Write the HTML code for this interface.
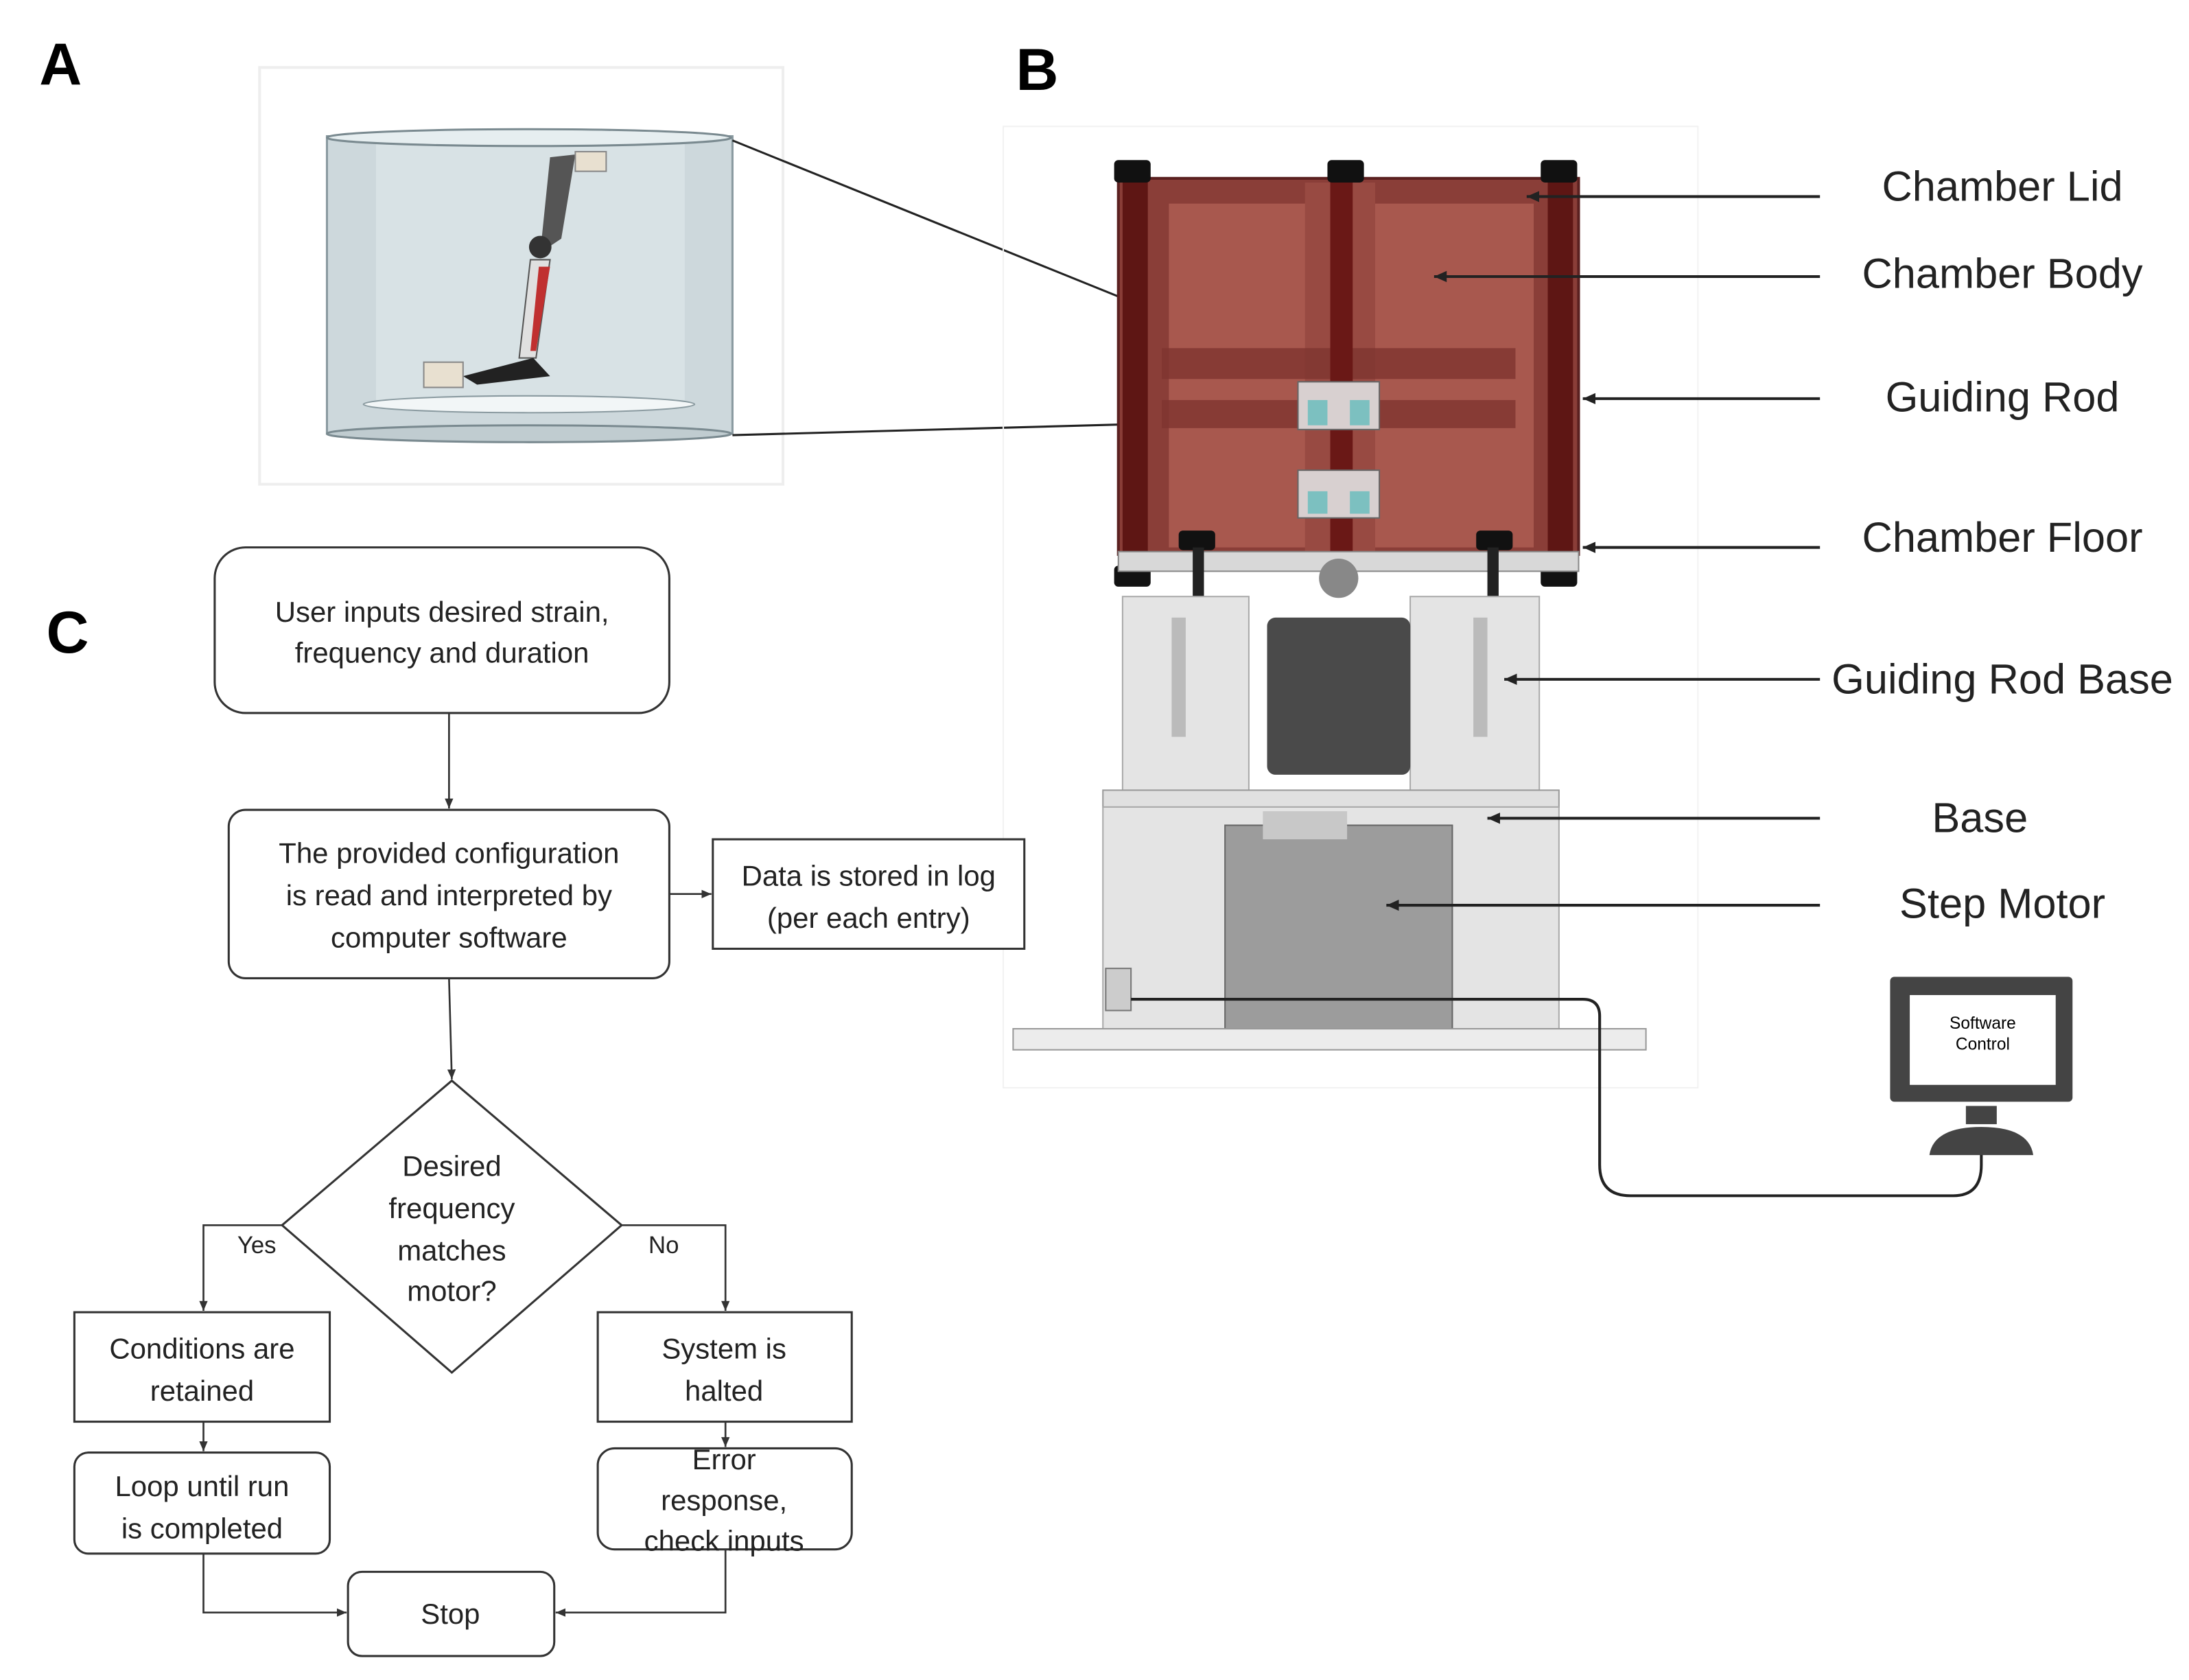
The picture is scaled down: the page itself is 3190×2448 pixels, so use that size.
<!DOCTYPE html>
<html><head><meta charset="utf-8"><style>
html,body{margin:0;padding:0;background:#fff;}
svg{display:block;}
text{font-family:"Liberation Sans",sans-serif;}
</style></head><body>
<svg width="3190" height="2448" viewBox="0 0 1560 1197" xmlns="http://www.w3.org/2000/svg">
<defs>
<marker id="ah" markerWidth="10" markerHeight="10" refX="9" refY="5" orient="auto" markerUnits="userSpaceOnUse"><path d="M0,1 L9,5 L0,9 z" fill="#222"/></marker>
<marker id="as" markerWidth="8" markerHeight="8" refX="7" refY="4" orient="auto" markerUnits="userSpaceOnUse"><path d="M0,1 L7,4 L0,7 z" fill="#333"/></marker>
</defs>
<rect width="1560" height="1197" fill="#fff"/>
<text x="28" y="60" font-size="42" font-weight="bold">A</text>
<text x="724" y="64" font-size="42" font-weight="bold">B</text>
<text x="33" y="465" font-size="42" font-weight="bold">C</text>

<rect x="185" y="48" width="373" height="297" fill="none" stroke="#eee" stroke-width="2"/>
<rect x="233" y="97" width="289" height="212" fill="#cdd8dc" stroke="#8a9aa0" stroke-width="1.5"/>
<rect x="268" y="100" width="220" height="185" fill="#d8e2e5"/>
<ellipse cx="377" cy="98" rx="144" ry="6" fill="#e6eef0" stroke="#7a8a90" stroke-width="1.5"/>
<ellipse cx="377" cy="288" rx="118" ry="6" fill="#f2f6f7" stroke="#8a9aa0"/>
<ellipse cx="377" cy="309" rx="144" ry="6" fill="#c0ccd0" stroke="#7a8a90" stroke-width="1.5"/>
<path d="M392,112 L410,110 L400,170 L385,180 Z" fill="#555"/>
<rect x="410" y="108" width="22" height="14" fill="#e8e0d0" stroke="#888"/>
<circle cx="385" cy="176" r="8" fill="#333"/>
<path d="M378,185 L392,185 L382,255 L370,255 Z" fill="#e0e0e0" stroke="#555"/>
<path d="M384,190 L392,190 L382,250 L378,250 Z" fill="#c03030"/>
<path d="M330,268 L380,255 L392,268 L340,274 Z" fill="#222"/>
<rect x="302" y="258" width="28" height="18" fill="#e8e0d0" stroke="#888"/>
<line x1="522" y1="100" x2="888" y2="248" stroke="#222" stroke-width="1.5"/>
<line x1="522" y1="310" x2="888" y2="300" stroke="#222" stroke-width="1.5"/>

<rect x="715" y="90" width="495" height="685" fill="none" stroke="#f2f2f2"/>
<rect x="797" y="127" width="328" height="268" fill="#8a3e38" stroke="#5a2020" stroke-width="2"/>
<rect x="833" y="145" width="260" height="245" fill="#a8584e"/>
<rect x="930" y="130" width="50" height="265" fill="#984a42"/>
<rect x="828" y="248" width="252" height="22" fill="#7e3430" opacity="0.8"/>
<rect x="828" y="285" width="252" height="20" fill="#7e3430" opacity="0.8"/>
<rect x="948" y="125" width="16" height="275" fill="#6a1816"/>
<rect x="925" y="272" width="58" height="34" fill="#d8d0d0" stroke="#666"/>
<rect x="932" y="285" width="14" height="18" fill="#7cc0c0"/><rect x="962" y="285" width="14" height="18" fill="#7cc0c0"/>
<rect x="925" y="335" width="58" height="34" fill="#d8d0d0" stroke="#666"/>
<rect x="932" y="350" width="14" height="16" fill="#7cc0c0"/><rect x="962" y="350" width="14" height="16" fill="#7cc0c0"/>
<rect x="800" y="125" width="18" height="275" fill="#5e1614"/>
<rect x="1103" y="125" width="18" height="275" fill="#5e1614"/>
<rect x="794" y="114" width="26" height="16" rx="3" fill="#111"/><rect x="946" y="114" width="26" height="16" rx="3" fill="#111"/><rect x="1098" y="114" width="26" height="16" rx="3" fill="#111"/>
<rect x="794" y="403" width="26" height="15" rx="3" fill="#111"/><rect x="1098" y="403" width="26" height="15" rx="3" fill="#111"/>
<rect x="840" y="378" width="26" height="14" rx="3" fill="#111"/><rect x="1052" y="378" width="26" height="14" rx="3" fill="#111"/>
<rect x="797" y="393" width="328" height="14" fill="#d8d8d8" stroke="#888"/>
<rect x="850" y="390" width="8" height="50" fill="#222"/><rect x="1060" y="390" width="8" height="50" fill="#222"/>
<circle cx="954" cy="412" r="14" fill="#888"/>
<rect x="800" y="425" width="90" height="140" fill="#e4e4e4" stroke="#aaa"/>
<rect x="1005" y="425" width="92" height="140" fill="#e4e4e4" stroke="#aaa"/>
<rect x="835" y="440" width="10" height="85" fill="#bbb"/><rect x="1050" y="440" width="10" height="85" fill="#bbb"/>
<rect x="903" y="440" width="102" height="112" rx="6" fill="#4a4a4a"/>
<rect x="786" y="563" width="325" height="12" fill="#e0e0e0" stroke="#999"/>
<rect x="786" y="575" width="325" height="160" fill="#e4e4e4" stroke="#aaa"/>
<rect x="873" y="588" width="162" height="152" fill="#9c9c9c" stroke="#666"/>
<rect x="900" y="578" width="60" height="20" fill="#c8c8c8"/>
<rect x="788" y="690" width="18" height="30" fill="#ccc" stroke="#777"/>
<rect x="722" y="733" width="451" height="15" fill="#ececec" stroke="#999"/>
<path d="M806,712 L1128,712 Q1140,712 1140,724 L1140,830 Q1140,852 1162,852 L1392,852 Q1412,852 1412,830 L1412,818" fill="none" stroke="#222" stroke-width="2"/>
<rect x="1347" y="696" width="130" height="89" rx="3" fill="#444"/>
<rect x="1361" y="709" width="104" height="64" fill="#fff"/>
<text x="1413" y="733" font-size="12" text-anchor="middle">Software</text>
<text x="1413" y="748" font-size="12" text-anchor="middle">Control</text>
<rect x="1401" y="788" width="22" height="13" fill="#444"/>
<path d="M1375,823 Q1378,803 1412,803 Q1446,803 1449,823 Z" fill="#444"/>

<g font-size="30" fill="#222" text-anchor="middle">
<text x="1427" y="143">Chamber Lid</text>
<text x="1427" y="205">Chamber Body</text>
<text x="1427" y="293">Guiding Rod</text>
<text x="1427" y="393">Chamber Floor</text>
<text x="1427" y="494">Guiding Rod Base</text>
<text x="1411" y="593">Base</text>
<text x="1427" y="654">Step Motor</text>
</g>
<g stroke="#222" stroke-width="2" marker-end="url(#ah)">
<line x1="1297" y1="140" x2="1088" y2="140"/>
<line x1="1297" y1="197" x2="1022" y2="197"/>
<line x1="1297" y1="284" x2="1128" y2="284"/>
<line x1="1297" y1="390" x2="1128" y2="390"/>
<line x1="1297" y1="484" x2="1072" y2="484"/>
<line x1="1297" y1="583" x2="1060" y2="583"/>
<line x1="1297" y1="645" x2="988" y2="645"/>
</g>

<g fill="#fff" stroke="#333" stroke-width="1.5">
<rect x="153" y="390" width="324" height="118" rx="22"/>
<rect x="163" y="577" width="314" height="120" rx="12"/>
<rect x="508" y="598" width="222" height="78"/>
<path d="M322,770 L443,873 L322,978 L201,873 Z"/>
<rect x="53" y="935" width="182" height="78"/>
<rect x="426" y="935" width="181" height="78"/>
<rect x="53" y="1035" width="182" height="72" rx="10"/>
<rect x="426" y="1032" width="181" height="72" rx="12"/>
<rect x="248" y="1120" width="147" height="60" rx="10"/>
</g>
<g stroke="#333" stroke-width="1.3" fill="none" marker-end="url(#as)">
<line x1="320" y1="508" x2="320" y2="576"/>
<line x1="477" y1="637" x2="507" y2="637"/>
<line x1="320" y1="697" x2="322" y2="769"/>
<polyline points="201,873 145,873 145,934"/>
<polyline points="443,873 517,873 517,934"/>
<line x1="145" y1="1013" x2="145" y2="1034"/>
<line x1="517" y1="1013" x2="517" y2="1031"/>
<polyline points="145,1107 145,1149 247,1149"/>
<polyline points="517,1104 517,1149 396,1149"/>
</g>
<g font-size="20.5" fill="#222" text-anchor="middle">
<text x="315" y="443">User inputs desired strain,</text>
<text x="315" y="472">frequency and duration</text>
<text x="320" y="615">The provided configuration</text>
<text x="320" y="645">is read and interpreted by</text>
<text x="320" y="675">computer software</text>
<text x="619" y="631">Data is stored in log</text>
<text x="619" y="661">(per each entry)</text>
<text x="322" y="838">Desired</text>
<text x="322" y="868">frequency</text>
<text x="322" y="898">matches</text>
<text x="322" y="927">motor?</text>
<text x="144" y="968">Conditions are</text>
<text x="144" y="998">retained</text>
<text x="516" y="968">System is</text>
<text x="516" y="998">halted</text>
<text x="144" y="1066">Loop until run</text>
<text x="144" y="1096">is completed</text>
<text x="516" y="1047">Error</text>
<text x="516" y="1076">response,</text>
<text x="516" y="1105">check inputs</text>
<text x="321" y="1157">Stop</text>
<text x="183" y="893" font-size="17">Yes</text>
<text x="473" y="893" font-size="17">No</text>
</g>
</svg>
</body></html>
